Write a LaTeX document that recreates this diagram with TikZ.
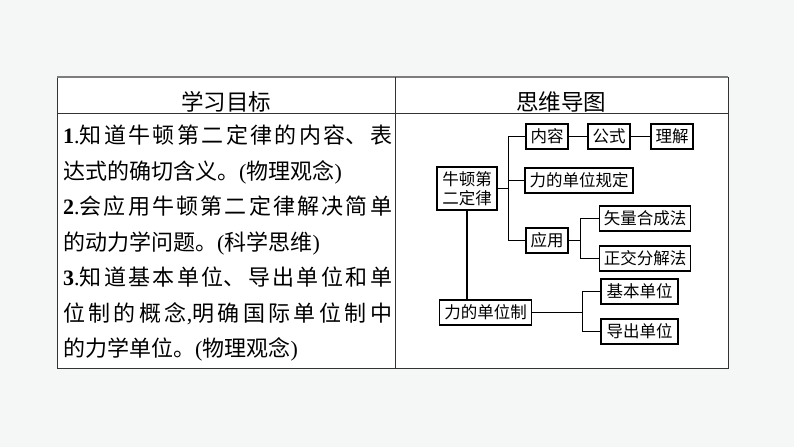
\documentclass[tikz,border=0pt]{standalone}
\usepackage{fontspec}
\setmainfont{Noto Sans CJK SC}
\newfontfamily\tnr{Liberation Serif}
\usepackage{tikz}
\usetikzlibrary{calc}
\XeTeXlinebreaklocale "zh"
\XeTeXlinebreakskip = 0pt plus 6pt
\definecolor{bgpage}{RGB}{244,247,245}
\definecolor{rulegray}{RGB}{125,125,125}
\tikzset{mapbox/.style = {draw, line width=1.3pt, fill=white, inner xsep=4.5pt, inner ysep=0pt,
    minimum height=25pt, font=\fontsize{16.5}{19.5}\selectfont},
  mapline/.style = {line width=1.3pt}}

\begin{document}
\begin{tikzpicture}[x=1pt, y=-1pt]
%Background
\fill[bgpage] (0,0) rectangle (794,447);
\useasboundingbox (0,0) rectangle (794,447);

%Table
\fill[white] (57,77) rectangle (728,368);
\draw[line width=1pt, black!80] (57,77) rectangle (728,368);
\draw[line width=2pt, rulegray] (57,77) -- (728,77);
\draw[line width=.8pt, black!80] (57,113) -- (728,113);
\draw[line width=.8pt, black!80] (395,77) -- (395,368);

%Headers
\node[font=\fontsize{22.5}{26}\selectfont] (hgoal) at (226,102) {学习目标};
\node[font=\fontsize{22.5}{26}\selectfont] (hmap) at (561,102) {思维导图};

%Goals
\node[anchor=north west, text width=329pt, inner sep=0pt, align=justify,
      font=\fontsize{22}{35.5}\selectfont] (goals) at (63,125) {%
{\tnr\bfseries 1}{\tnr.}知道牛顿第二定律的内容、表\linebreak
达式的确切含义。{\tnr(}物理观念{\tnr)}\\
{\tnr\bfseries 2}{\tnr.}会应用牛顿第二定律解决简单\linebreak
的动力学问题。{\tnr(}科学思维{\tnr)}\\
{\tnr\bfseries 3}{\tnr.}知道基本单位、导出单位和单\linebreak
位制的概念{\tnr,}明确国际单位制中\linebreak
的力学单位。{\tnr(}物理观念{\tnr)}};

%Mind map boxes
\node[mapbox, minimum width=60pt, minimum height=43pt, align=center] (law) at (467,188.5) {牛顿第\\二定律};
\node[mapbox] (content) at (547,136.5) {内容};
\node[mapbox] (formula) at (609,136.5) {公式};
\node[mapbox] (meaning) at (672,136.5) {理解};
\node[mapbox] (unitrule) at (579,180.5) {力的单位规定};
\node[mapbox] (apply) at (547,240.5) {应用};
\node[mapbox] (compose) at (645,218.5) {矢量合成法};
\node[mapbox] (ortho) at (645,258.5) {正交分解法};
\node[mapbox] (system) at (485.5,312.5) {力的单位制};
\node[mapbox, minimum width=77pt] (basic) at (639.5,291.5) {基本单位};
\node[mapbox, minimum width=77pt] (derived) at (639.5,331.5) {导出单位};

%Connectors
\coordinate (trunk) at ($(content.west)+(-17,0)$);
\draw[mapline] (law.east) -- (law.east -| trunk);
\draw[mapline] (content.west) -- (trunk) |- (apply.west);
\draw[mapline] (unitrule.west) -- (unitrule.west -| trunk);
\draw[mapline] (content) -- (formula) -- (meaning);
\draw[mapline] (compose.west) -- ++(-18,0) coordinate (fork) |- (ortho.west);
\draw[mapline] (apply.east) -- (apply.east -| fork);
\draw[mapline] (law.south) -- (law.south |- system.north);
\draw[mapline] (basic.west) -- ++(-18,0) coordinate (ufork) |- (derived.west);
\draw[mapline] (system.east) -- (system.east -| ufork);
\end{tikzpicture}
\end{document}
